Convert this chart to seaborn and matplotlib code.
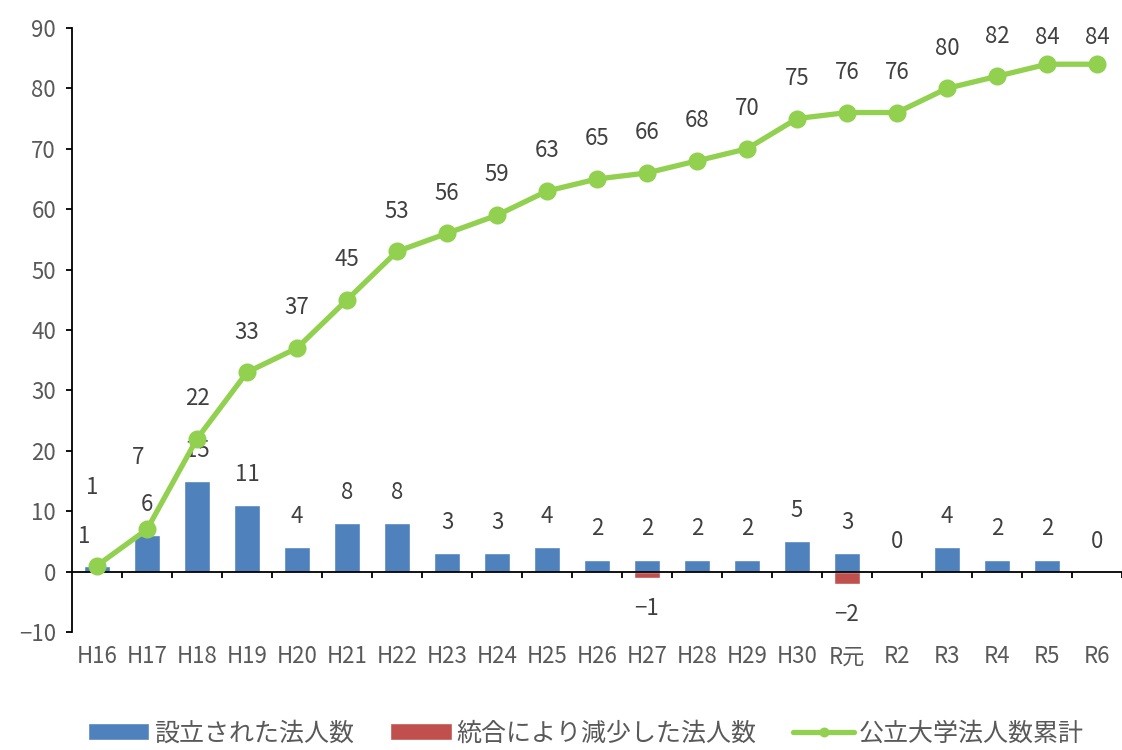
import numpy as np
import pandas as pd
import matplotlib
matplotlib.use("Agg")
import matplotlib.pyplot as plt
import seaborn as sns
from matplotlib.ticker import FixedLocator

# data
years = ['H16', 'H17', 'H18', 'H19', 'H20', 'H21', 'H22', 'H23', 'H24', 'H25', 'H26',
         'H27', 'H28', 'H29', 'H30', 'R元', 'R2', 'R3', 'R4', 'R5', 'R6']
established = [1, 6, 15, 11, 4, 8, 8, 3, 3, 4, 2, 2, 2, 2, 5, 3, 0, 4, 2, 2, 0]
merged = [0, 0, 0, 0, 0, 0, 0, 0, 0, 0, 0, -1, 0, 0, 0, -2, 0, 0, 0, 0, 0]
cumulative = [1, 7, 22, 33, 37, 45, 53, 56, 59, 63, 65, 66, 68, 70, 75, 76, 76, 80, 82, 84, 84]

name_est = '設立された法人数'
name_mrg = '統合により減少した法人数'
name_cum = '公立大学法人数累計'

BLUE = '#4F81BD'
RED = '#C0504D'
GREEN = '#92D050'
TXT = '#404040'
TICK = '#595959'

sns.set_style('white')
plt.rcParams['font.family'] = ['Noto Sans CJK JP', 'DejaVu Sans']

df = pd.DataFrame({'year': years, 'est': established, 'mrg': merged, 'cum': cumulative})
n = len(df)
x = np.arange(n)

fig = plt.figure(figsize=(11.22, 7.5), dpi=100)
ax = fig.add_axes([0.0642, 0.1573, 0.9358, 0.8054])

sns.barplot(data=df, x='year', y='est', color=BLUE, width=0.52, saturation=1,
            ax=ax, label=name_est)
sns.barplot(data=df, x='year', y='mrg', color=RED, width=0.52, saturation=1,
            ax=ax, label=name_mrg)
sns.lineplot(x=x, y=df['cum'], color=GREEN, lw=3.8, marker='o', markersize=13,
             markeredgewidth=0, ax=ax, label=name_cum, clip_on=False, zorder=5)

ax.set_xlim(-0.5, n - 0.5)
ax.set_ylim(-10, 90)
ax.set_yticks(range(-10, 91, 10))
ax.set_xlabel('')
ax.set_ylabel('')

# axes styling
for s in ['top', 'right']:
    ax.spines[s].set_visible(False)
ax.spines['left'].set_color('black')
ax.spines['left'].set_linewidth(1.3)
ax.spines['bottom'].set_position(('data', 0))
ax.spines['bottom'].set_color('black')
ax.spines['bottom'].set_linewidth(1.3)
ax.spines['bottom'].set_zorder(4)

ax.tick_params(axis='y', direction='out', length=4.5, width=1.3, color='black',
               labelsize=16, labelcolor=TICK, pad=7, left=True)
ax.set_xticks(x)
ax.set_xticklabels(years)
ax.tick_params(axis='x', which='major', length=0, labelsize=16, labelcolor=TICK, pad=53)
ax.xaxis.set_minor_locator(FixedLocator(np.arange(0.5, n, 1.0)))
ax.tick_params(axis='x', which='minor', direction='out', length=4.5, width=1.3,
               color='black', bottom=True)
ax.grid(False)

# value labels
lab_kw = dict(ha='center', va='center', fontsize=16, color=TXT,
              textcoords='offset points', annotation_clip=False)
bar_shift = {0: (-9, 21)}
line_shift = {0: (-3.5, 56), 1: (-6.5, 52)}
for i in range(n):
    v = established[i]
    ax.annotate(f'{v}', (i, v), xytext=bar_shift.get(i, (0, 22)), **lab_kw)
    if merged[i] < 0:
        ax.annotate(f'\u2212{abs(merged[i])}', (i, merged[i]), xytext=(0, -22), **lab_kw)
    c = cumulative[i]
    off = line_shift.get(i, (0, 29))
    if c > 83:
        off = (0, 19)
    ax.annotate(f'{c}', (i, c), xytext=off, **lab_kw)

# legend at the bottom
if ax.legend_:
    ax.legend_.remove()
handles, labels = ax.get_legend_handles_labels()
order = [labels.index(name_est), labels.index(name_mrg), labels.index(name_cum)]
leg = fig.legend([handles[k] for k in order], [labels[k] for k in order],
                 loc='center left', bbox_to_anchor=(0.0784, 0.022), ncol=3,
                 frameon=False, fontsize=18, handlelength=2.45, handleheight=0.65,
                 handletextpad=0.2, columnspacing=1.45, borderpad=0, borderaxespad=0,
                 markerscale=0.55)
for t in leg.get_texts():
    t.set_color(TICK)

fig.savefig('out.png', dpi=100)
